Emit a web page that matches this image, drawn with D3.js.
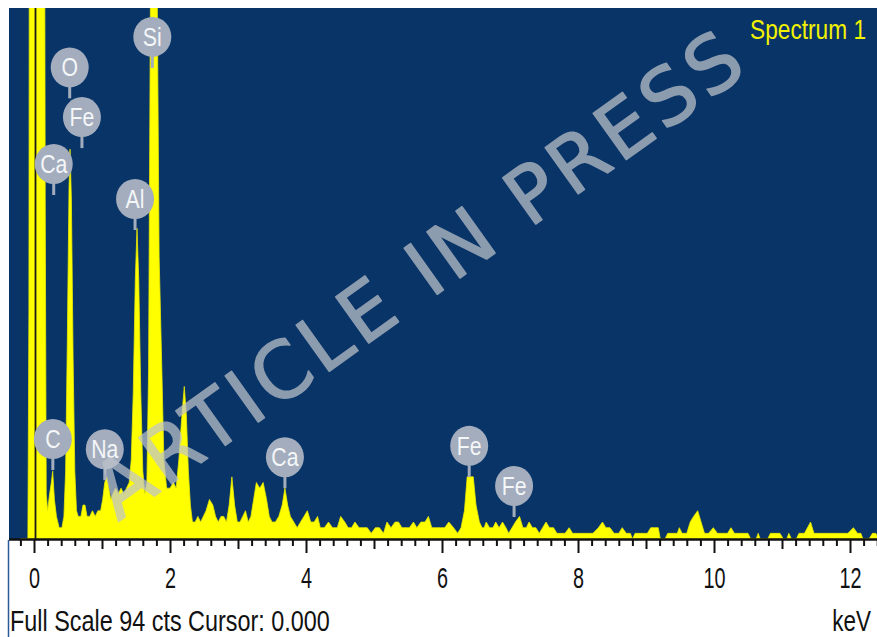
<!DOCTYPE html>
<html>
<head>
<meta charset="utf-8">
<script src="https://cdn.jsdelivr.net/npm/d3@7"></script>
<style>
  html, body { margin: 0; padding: 0; background: #ffffff; }
  svg { display: block; }
</style>
</head>
<body>
<svg id="chart" width="877" height="637"></svg>
<script>
// EDS spectrum: channel energy (keV) and counts
const energyKeV = [
  -0.20, -0.09, -0.075, -0.065, 0.15, 0.165, 0.18, 0.20, 0.23, 0.255,
  0.275, 0.30, 0.33, 0.37, 0.41, 0.44, 0.465, 0.49, 0.515, 0.53,
  0.55, 0.575, 0.60, 0.625, 0.65, 0.69, 0.72, 0.75, 0.78, 0.82,
  0.86, 0.90, 0.94, 0.98, 1.01, 1.04, 1.07, 1.10, 1.13, 1.16,
  1.20, 1.24, 1.28, 1.32, 1.36, 1.40, 1.43, 1.46, 1.49, 1.515,
  1.54, 1.57, 1.60, 1.63, 1.66, 1.685, 1.71, 1.735, 1.76, 1.785,
  1.81, 1.84, 1.88, 1.91, 1.95, 2.00, 2.05, 2.09, 2.13, 2.17,
  2.21, 2.24, 2.27, 2.30, 2.33, 2.37, 2.41, 2.45, 2.49, 2.53,
  2.58, 2.63, 2.67, 2.71, 2.75, 2.79, 2.83, 2.87, 2.91, 2.95,
  2.99, 3.03, 3.07, 3.11, 3.15, 3.19, 3.23, 3.27, 3.32, 3.37,
  3.42, 3.46, 3.50, 3.55, 3.60, 3.65, 3.69, 3.73, 3.77, 3.82,
  3.87, 3.92, 3.97, 4.02, 4.07, 4.12, 4.17, 4.21, 4.27, 4.33,
  4.39, 4.46, 4.51, 4.57, 4.62, 4.67, 4.72, 4.78, 4.84, 4.90,
  4.96, 5.02, 5.08, 5.14, 5.19, 5.25, 5.31, 5.36, 5.41, 5.47,
  5.52, 5.58, 5.63, 5.69, 5.75, 5.80, 5.85, 5.92, 5.98, 6.04,
  6.10, 6.17, 6.23, 6.28, 6.33, 6.37, 6.41, 6.46, 6.50, 6.55,
  6.59, 6.62, 6.65, 6.70, 6.75, 6.79, 6.84, 6.89, 6.94, 6.98, 7.03,
  7.08, 7.14, 7.19, 7.24, 7.28, 7.33, 7.38, 7.43, 7.48, 7.53,
  7.58, 7.64, 7.69, 7.75, 7.81, 7.87, 7.92, 7.98, 8.04, 8.10,
  8.16, 8.22, 8.30, 8.36, 8.41, 8.47, 8.53, 8.60, 8.65, 8.71,
  8.77, 8.80, 8.84, 8.90, 8.96, 9.02, 9.07, 9.13, 9.18, 9.21,
  9.28, 9.32, 9.40, 9.46, 9.49, 9.53, 9.60, 9.65, 9.70, 9.76,
  9.81, 9.86, 9.92, 9.99, 10.05, 10.13, 10.20, 10.25, 10.30, 10.38,
  10.45, 10.50, 10.54, 10.62, 10.65, 10.68, 10.79, 10.83, 10.90, 10.97,
  11.02, 11.07, 11.10, 11.14, 11.21, 11.25, 11.33, 11.42, 11.47, 11.55,
  11.62, 11.70, 11.80, 11.90, 11.97, 12.05, 12.11, 12.16, 12.19, 12.28,
  12.33, 12.38, 12.42
];
const counts = [
  0, 0, 40, 160, 160, 60, 8, 5, 8, 10,
  12, 7, 4, 2, 2, 4, 12, 35, 62, 69,
  60, 32, 12, 5, 4, 4, 6, 6, 4, 4,
  5, 4, 5, 5, 7, 10, 11, 9, 7, 8,
  9, 8, 9, 8, 9, 10, 14, 26, 46, 55,
  46, 26, 12, 8, 10, 30, 90, 170, 200, 170,
  100, 50, 30, 14, 9, 9, 10, 9, 14, 21,
  27, 22, 12, 6, 3, 3, 4, 3, 4, 5,
  7, 6, 4, 3, 4, 4, 3, 6, 11, 6,
  3, 3, 4, 5, 3, 4, 7, 10, 9, 10,
  7, 4, 3, 3, 4, 6, 9, 6, 4, 3,
  2, 3, 4, 5, 3, 3, 4, 2, 2, 3,
  2, 2, 4, 3, 2, 2, 3, 2, 2, 2,
  1, 2, 2, 1, 3, 2, 3, 3, 2, 2,
  2, 3, 2, 3, 3, 4, 2, 2, 2, 2,
  3, 2, 1, 2, 5, 11, 11, 11, 6, 3,
  2, 2, 3, 2, 2, 3, 2, 3, 2, 1, 2,
  3, 4, 2, 2, 3, 2, 2, 1, 2, 3,
  2, 2, 1, 1, 1, 2, 1, 1, 1, 1,
  1, 1, 2, 3, 2, 2, 1, 1, 2, 1,
  1, 0, 1, 1, 1, 1, 2, 2, 2, 0,
  0, 1, 1, 1, 2, 1, 1, 3, 4, 5,
  3, 1, 1, 2, 1, 1, 1, 2, 1, 1,
  1, 1, 0, 0, 1, 0, 0, 1, 1, 1,
  0, 0, 1, 0, 0, 1, 1, 3, 1, 1,
  1, 1, 1, 1, 1, 2, 1, 1, 0, 0,
  1, 1, 0
];

// Identified peaks: element, line energy (keV), marker tip height (cts)
const peakElements = ["O", "Fe", "Ca", "Si", "Al", "C", "Na", "Ca", "Fe", "Fe"];
const peakKeV      = [0.525, 0.705, 0.29, 1.74, 1.486, 0.277, 1.041, 3.69, 6.40, 7.06];
const peakTipCts   = [78, 69.2, 60.9, 83.4, 54.7, 12.2, 10.4, 9.0, 11.0, 3.9];

// Axis labels
const majorTicks = [0, 2, 4, 6, 8, 10, 12];
const fullScaleCts = 94;
const cursorKeV = 0.000;
const spectrumName = "Spectrum 1";
const watermark = "ARTICLE IN PRESS";

const font = "Liberation Sans, Arial, sans-serif";

const svg = d3.select("#chart");
const plot = { left: 9, top: 8, right: 877, bottom: 540 };

const x = d3.scaleLinear().domain([0, 12]).range([34, 850]);
const y = d3.scaleLinear().domain([0, fullScaleCts]).range([539, 8]);

// Plot background
svg.append("rect")
  .attr("x", plot.left).attr("y", plot.top)
  .attr("width", plot.right - plot.left).attr("height", plot.bottom - plot.top)
  .attr("fill", "#083467");

svg.append("clipPath").attr("id", "plotClip")
  .append("rect")
  .attr("x", plot.left).attr("y", plot.top)
  .attr("width", plot.right - plot.left).attr("height", plot.bottom - plot.top);

const spectrum = energyKeV.map((e, i) => ({ keV: e, cts: counts[i] }));

const area = d3.area()
  .x(d => x(d.keV))
  .y0(y(0))
  .y1(d => y(d.cts));

const g = svg.append("g").attr("clip-path", "url(#plotClip)");

g.append("path")
  .datum(spectrum)
  .attr("d", area)
  .attr("fill", "#FFFF00")
  .attr("stroke", "#E8E800")
  .attr("stroke-width", 0.8);

// Cursor line
g.append("line")
  .attr("x1", x(cursorKeV) + 1.5).attr("x2", x(cursorKeV) + 1.5)
  .attr("y1", plot.top).attr("y2", plot.bottom)
  .attr("stroke", "#1a1a1a").attr("stroke-width", 1.8);

// Peak markers
const markers = g.selectAll("g.marker")
  .data(peakElements.map((el, i) => ({ el, keV: peakKeV[i], tip: peakTipCts[i] })))
  .join("g")
  .attr("class", "marker")
  .attr("transform", d => `translate(${x(d.keV)},${y(d.tip)})`);

markers.append("line")
  .attr("x1", 0).attr("x2", 0)
  .attr("y1", 0).attr("y2", -14)
  .attr("stroke", "#A3ADBD").attr("stroke-width", 3);

markers.append("ellipse")
  .attr("cx", 0).attr("cy", -31)
  .attr("rx", 19).attr("ry", 20)
  .attr("fill", "#A3ADBD");

markers.append("text")
  .attr("transform", "translate(0,-22) scale(0.85,1)")
  .attr("text-anchor", "middle")
  .attr("font-family", font)
  .attr("font-size", 25)
  .attr("fill", "#F4F6F8")
  .text(d => d.el);

// Spectrum name in the plot corner
svg.append("g")
  .attr("transform", "translate(866,39) scale(0.81,1)")
  .append("text")
  .attr("text-anchor", "end")
  .attr("font-family", font)
  .attr("font-size", 28)
  .attr("fill", "#F2F200")
  .text(spectrumName);

// Energy axis
const tickVals = d3.range(-1, 63).map(i => +(i * 0.2).toFixed(1));
const axis = d3.axisBottom(x)
  .tickValues(tickVals)
  .tickSizeOuter(0)
  .tickFormat(d => majorTicks.includes(d) ? String(d) : "");

const ax = svg.append("g")
  .attr("transform", `translate(0,${plot.bottom})`)
  .call(axis);

ax.select(".domain").remove();
ax.selectAll(".tick line")
  .attr("stroke", "#111")
  .attr("stroke-width", 2)
  .attr("y2", d => majorTicks.includes(d) ? 13 : (Number.isInteger(d) ? 9 : 6));
ax.selectAll(".tick text")
  .attr("y", 0).attr("dy", 0)
  .attr("transform", "translate(0,48) scale(0.66,1)")
  .attr("font-family", font)
  .attr("font-size", 30)
  .attr("fill", "#111");

// Baseline
svg.append("line")
  .attr("x1", plot.left).attr("x2", plot.right)
  .attr("y1", 539.5).attr("y2", 539.5)
  .attr("stroke", "#111").attr("stroke-width", 2.5);

// Left frame line below the plot
svg.append("line")
  .attr("x1", 8.5).attr("x2", 8.5)
  .attr("y1", plot.bottom).attr("y2", 637)
  .attr("stroke", "#2a5a9a").attr("stroke-width", 1.5);

// Status line
svg.append("g")
  .attr("transform", "translate(10,631) scale(0.78,1)")
  .append("text")
  .attr("font-family", font)
  .attr("font-size", 30)
  .attr("fill", "#111")
  .text(`Full Scale ${fullScaleCts} cts Cursor: ${cursorKeV.toFixed(3)}`);

svg.append("g")
  .attr("transform", "translate(871,631) scale(0.75,1)")
  .append("text")
  .attr("text-anchor", "end")
  .attr("font-family", font)
  .attr("font-size", 30)
  .attr("fill", "#111")
  .text("keV");

// Watermark (group opacity so fill and outline blend as one)
svg.append("g")
  .attr("opacity", 0.72)
  .append("text")
  .attr("transform", "translate(118,522) rotate(-35.5)")
  .attr("font-family", "DejaVu Sans, Verdana, sans-serif")
  .attr("font-size", 78)
  .attr("textLength", 775)
  .attr("lengthAdjust", "spacing")
  .attr("fill", "#C0C4CC")
  .attr("stroke", "#C0C4CC")
  .attr("stroke-width", 1.5)
  .attr("stroke-linejoin", "round")
  .text(watermark);
</script>
</body>
</html>
